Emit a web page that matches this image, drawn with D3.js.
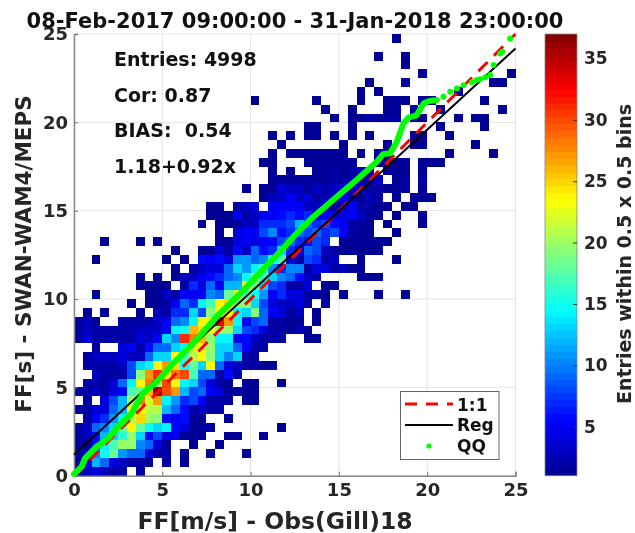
<!DOCTYPE html>
<html>
<head>
<meta charset="utf-8">
<script src="https://cdn.jsdelivr.net/npm/d3@7"></script>
<style>
  html, body { margin: 0; padding: 0; background: #fff; }
  svg { display: block; filter: blur(0.35px); }
  text { font-family: "DejaVu Sans", sans-serif; font-weight: bold; }
</style>
</head>
<body>
<svg id="chart" width="635" height="533"></svg>
<script>
var titleText = "08-Feb-2017 09:00:00 - 31-Jan-2018 23:00:00";
var xLabel = "FF[m/s] - Obs(Gill)18";
var yLabel = "FF[s] - SWAN-WAM4/MEPS";
var cbLabel = "Entries within 0.5 x 0.5 bins";
var statLines = ["Entries: 4998", "Cor: 0.87", "BIAS:  0.54", "1.18+0.92x"];
var axisTicks = [0, 5, 10, 15, 20, 25];
var cbTicks = [5, 10, 15, 20, 25, 30, 35];
var legendNames = ["1:1", "Reg", "QQ"];
var regLine = {a: 1.18, b: 0.92};

// counts per 0.5 x 0.5 bin, first row is the lowest y bin
var binCounts = [
  [2,3,4,3,2,2,0,2],
  [2,5,12,9,4,3,2,2,1,0,2,0,1],
  [2,3,10,15,18,11,9,9,4,2,2,0,1,0,0,1,0,0,0,1],
  [2,2,6,14,17,20,20,10,9,4,2,0,0,1,0,0,1],
  [2,3,6,12,13,16,20,13,5,8,4,5,1,1,1,0,0,1,1,0,0,1],
  [2,3,9,10,13,18,24,18,15,13,14,6,4,1,1,2,0,0,0,0,0,0,0,1],
  [0,2,5,7,11,14,21,25,20,19,6,5,6,1,1,0,0,1],
  [2,2,4,4,9,12,24,24,21,21,12,9,6,2,3,2,2],
  [0,2,0,4,8,12,20,28,22,27,14,11,7,8,5,2,2,2,0,1,1],
  [2,2,3,2,4,5,17,18,26,36,30,27,12,8,9,5,4,1,2,1,1],
  [0,2,2,2,4,9,14,23,28,20,30,24,14,13,8,4,2,1,0,1,1,0,0,1],
  [0,0,3,2,2,2,8,19,27,31,24,28,30,17,9,9,2,6,2],
  [0,2,2,2,2,3,8,13,14,24,27,25,15,18,13,24,9,4,3,2,2,1,1],
  [0,2,3,3,3,4,3,3,9,13,13,23,17,21,24,19,13,10,13,2,2],
  [0,0,2,0,0,4,5,2,6,9,9,13,14,22,24,20,13,13,9,5,2,2],
  [2,4,2,2,2,2,2,4,3,5,13,10,31,28,26,19,14,14,5,6,3,2,2,2,0,0,1,1],
  [2,3,2,2,2,2,2,3,3,3,5,14,15,26,25,23,20,20,13,8,7,4,2,2,1,3,1],
  [2,3,1,0,0,2,2,2,2,3,5,9,10,14,23,23,33,27,15,5,8,9,2,2,1,1,0,1],
  [0,1,0,1,0,0,0,1,0,3,2,7,7,13,8,19,23,24,14,13,19,9,5,4,2,3,0,1],
  [0,0,0,0,0,0,1,0,1,1,2,5,9,7,14,17,24,25,20,19,13,8,4,3,3,4,2,0,2],
  [0,0,1,0,0,0,0,0,1,1,3,2,5,5,5,10,9,18,22,17,15,11,5,7,4,4,2,2,1,0,1,0,0,0,1,0,0,1],
  [0,0,0,0,0,0,0,1,1,1,1,0,2,7,4,9,5,12,12,22,18,13,8,7,2,2,4,0,1,1],
  [0,0,0,0,0,0,0,1,0,1,0,1,3,3,5,6,7,9,10,15,19,16,13,10,9,6,3,2,0,0,0,0,1,1,1],
  [0,0,0,0,0,0,0,0,0,0,0,1,0,2,3,4,4,9,13,11,14,17,10,7,10,10,2,4,4,2,3,1,1],
  [0,0,1,0,0,0,0,0,0,0,1,0,1,0,6,5,6,4,11,11,9,10,15,17,4,2,8,7,2,3,0,0,1,0,0,0,1],
  [0,0,0,0,0,0,0,0,0,0,0,1,0,0,1,1,4,2,6,3,9,6,7,13,7,4,9,8,3,2,1,1,1,1,1],
  [0,0,0,1,0,0,0,1,0,1,0,0,0,0,0,0,1,1,4,5,4,5,5,8,9,7,6,8,7,0,1,1,1,1,1,1],
  [0,0,0,0,0,0,0,0,0,0,0,0,0,0,0,0,1,0,4,5,5,8,10,6,7,9,8,9,7,8,5,2,1,1,0,0,1],
  [0,0,0,0,0,0,0,0,0,0,0,0,0,0,1,0,1,1,1,3,3,7,7,7,8,12,9,7,8,6,5,2,2,1,0,1,0,0,0,1],
  [0,0,0,0,0,0,0,0,0,0,0,0,0,0,0,1,1,1,5,2,3,5,5,6,7,6,7,4,5,4,4,5,3,1,1,0,1,0,0,1],
  [0,0,0,0,0,0,0,0,0,0,0,0,0,0,0,1,1,0,2,3,4,0,5,5,5,5,3,3,3,2,3,5,2,2,1,1,0,1,1],
  [0,0,0,0,0,0,0,0,0,0,0,0,0,0,0,0,0,0,0,0,0,1,3,3,5,3,4,2,3,3,5,2,1,3,2,0,1,0,1,1,1],
  [0,0,0,0,0,0,0,0,0,0,0,0,0,0,0,0,0,0,0,1,0,1,1,4,3,3,1,3,2,3,4,3,3,2,2,1,1,2,0,1],
  [0,0,0,0,0,0,0,0,0,0,0,0,0,0,0,0,0,0,0,0,0,0,1,1,1,1,2,1,1,2,2,2,2,3,4,0,1,2,0,2],
  [0,0,0,0,0,0,0,0,0,0,0,0,0,0,0,0,0,0,0,0,0,0,1,0,1,0,0,1,1,2,1,2,3,2,0,1,1,1,0,1],
  [0,0,0,0,0,0,0,0,0,0,0,0,0,0,0,0,0,0,0,0,0,1,1,0,0,0,1,1,1,1,1,1,0,0,1,1,1,1,0,1,1,1],
  [0,0,0,0,0,0,0,0,0,0,0,0,0,0,0,0,0,0,0,0,0,0,1,0,1,1,1,1,1,1,1,0,1,0,1,1,0,0,0,0,0,0,1,0,0,0,0,1],
  [0,0,0,0,0,0,0,0,0,0,0,0,0,0,0,0,0,0,0,0,0,0,0,1,0,0,0,0,0,0,1,0,0,0,0,1,0,0,1,1,0,0,0,0,0,1],
  [0,0,0,0,0,0,0,0,0,0,0,0,0,0,0,0,0,0,0,0,0,0,1,0,1,0,1,1,0,1,0,1,0,1,0,0,0,0,1,1,0,0,1],
  [0,0,0,0,0,0,0,0,0,0,0,0,0,0,0,0,0,0,0,0,0,0,0,0,0,0,1,1,0,0,0,1,0,0,0,0,0,0,0,0,0,1,0,0,0,0,1],
  [0,0,0,0,0,0,0,0,0,0,0,0,0,0,0,0,0,0,0,0,0,0,0,0,0,0,0,0,0,1,0,1,1,2,1,2,2,0,1,1,0,0,0,1,0,1,1],
  [0,0,0,0,0,0,0,0,0,0,0,0,0,0,0,0,0,0,0,0,0,0,0,0,0,0,0,0,1,0,0,1,0,0,0,1,1,0,1,0,0,1,0,0,0,0,0,0,1],
  [0,0,0,0,0,0,0,0,0,0,0,0,0,0,0,0,0,0,0,0,1,0,0,0,0,0,0,1,0,0,0,0,1,0,0,1,1,1,0,1,1,0,0,0,0,0,1],
  [0,0,0,0,0,0,0,0,0,0,0,0,0,0,0,0,0,0,0,0,0,0,0,0,0,0,0,0,0,0,0,0,1,0,1,0,0,0,0,0,0,0,0,1],
  [0,0,0,0,0,0,0,0,0,0,0,0,0,0,0,0,0,0,0,0,0,0,0,0,0,0,0,0,0,0,0,0,0,1,0,0,0,1,0,0,0,0,0,0,0,0,0,1,1],
  [0,0,0,0,0,0,0,0,0,0,0,0,0,0,0,0,0,0,0,0,0,0,0,0,0,0,0,0,0,0,0,0,0,0,0,0,0,0,0,1,0,0,0,0,0,0,0,0,0,1],
  [0,0,0,0,0,0,0,0,0,0,0,0,0,0,0,0,0,0,0,0,0,0,0,0,0,0,0,0,0,0,0,0,0,0,0,0,0,1],
  [0,0,0,0,0,0,0,0,0,0,0,0,0,0,0,0,0,0,0,0,0,0,0,0,0,0,0,0,0,0,0,0,0,0,1,0,0,1],
  [],
  [0,0,0,0,0,0,0,0,0,0,0,0,0,0,0,0,0,0,0,0,0,0,0,0,0,0,0,0,0,0,0,0,0,0,0,0,1]
];

// QQ points: dense part runs together into a thick band, tail dots stand apart
var qqObs = [0,0.43,0.62,1.28,1.94,2.5,3.26,3.9,4.68,5.62,6.75,8.07,9.4,10.5,11.67,12.61,13.56,14.88,16,17.15,17.5,17.9,18.28,18.66,18.94,19.4,19.8,20.07,20.55];
var qqMod = [0.1,0.5,0.98,1.64,2.11,2.77,3.53,4.66,5.32,6.36,7.49,9,10.3,11.45,12.68,13.72,14.66,15.79,16.74,17.77,18.2,18.25,18.9,19.95,20.27,20.4,21.07,21.2,21.26];
var qqTailObs = [20.92,21.3,21.68,22.06,22.53,22.8,23,23.3,23.57,23.76,24.13,24.25,24.7];
var qqTailMod = [21.45,21.73,21.92,22.1,22.27,22.4,22.44,22.55,22.68,23.24,23.9,24,24.75];

var svg = d3.select("#chart");
var dark = "#262626";

var x = d3.scaleLinear().domain([0, 25]).range([74, 515.5]),
    y = d3.scaleLinear().domain([0, 25]).range([475.7, 34]),
    cbY = d3.scaleLinear().domain([1, 37]).range([475.7, 34]);

// jet, 64 steps like the matlab colormap
var jet = d3.scaleLinear()
  .domain([0, 0.125, 0.375, 0.625, 0.875, 1])
  .range(["#00008f", "#0000ff", "#00ffff", "#ffff00", "#ff0000", "#800000"]);
function levelColor(v){
  var lev = Math.min(63, Math.floor((v - 1) / 36 * 64));
  return jet((lev + 0.5) / 64);
}

//Grid under the cells
svg.append("g").selectAll("line").data(axisTicks).enter().append("line")
  .attr("x1", function(d){ return x(d); }).attr("x2", function(d){ return x(d); })
  .attr("y1", y(0)).attr("y2", y(25))
  .style("stroke", "#e4e4e4").style("stroke-width", 1);
svg.append("g").selectAll("line").data(axisTicks).enter().append("line")
  .attr("x1", x(0)).attr("x2", x(25))
  .attr("y1", function(d){ return y(d); }).attr("y2", function(d){ return y(d); })
  .style("stroke", "#e4e4e4").style("stroke-width", 1);

//Heat map cells
var cells = [];
binCounts.forEach(function(row, j){
  row.forEach(function(v, i){
    if(v > 0) cells.push({i: i, j: j, v: v});
  });
});
svg.append("g").selectAll("rect").data(cells).enter().append("rect")
  .attr("x", function(d){ return x(d.i * 0.5); })
  .attr("y", function(d){ return y((d.j + 1) * 0.5); })
  .attr("width", x(0.5) - x(0))
  .attr("height", y(0) - y(0.5))
  .attr("shape-rendering", "crispEdges")
  .style("fill", function(d){ return levelColor(d.v); });

//Axes, drawn by hand-styled d3 axes so ticks point inwards
var xAxis = svg.append("g").attr("transform", "translate(0," + y(0) + ")")
  .call(d3.axisBottom(x).tickValues(axisTicks).tickSize(-4).tickPadding(8));
var yAxis = svg.append("g").attr("transform", "translate(" + x(0) + ",0)")
  .call(d3.axisLeft(y).tickValues(axisTicks).tickSize(-4).tickPadding(6));
[xAxis, yAxis].forEach(function(ax){
  ax.selectAll("text").style("font-size", "18px").style("fill", dark)
    .style("font-family", "DejaVu Sans").style("font-weight", "bold");
  ax.selectAll("line").style("stroke", "#777");
  ax.select(".domain").style("stroke", "#888").style("stroke-width", 1.5);
});

//Lines
var line = d3.line().x(function(d){ return x(d[0]); }).y(function(d){ return y(d[1]); });
svg.append("path").datum([[0, 0], [25, 25]]).attr("d", line)
  .style("fill", "none").style("stroke", "#ff0000").style("stroke-width", 3)
  .style("stroke-dasharray", "13,9");
svg.append("path").datum([[0, regLine.a], [25, regLine.a + regLine.b * 25]]).attr("d", line)
  .style("fill", "none").style("stroke", "#000").style("stroke-width", 2);
svg.append("path").datum(qqObs.map(function(d, i){ return [d, qqMod[i]]; })).attr("d", line)
  .style("fill", "none").style("stroke", "#00ff00").style("stroke-width", 6)
  .style("stroke-linejoin", "round").style("stroke-linecap", "round");
svg.append("g").selectAll("circle").data(qqTailObs).enter().append("circle")
  .attr("cx", function(d){ return x(d); })
  .attr("cy", function(d, i){ return y(qqTailMod[i]); })
  .attr("r", 3)
  .style("fill", "#00ff00");

//Title and axis labels
svg.append("text").attr("x", 295).attr("y", 27.5).attr("text-anchor", "middle")
  .style("font-size", "21px").style("fill", "#111").text(titleText);
svg.append("text").attr("x", 275).attr("y", 528.5).attr("text-anchor", "middle")
  .style("font-size", "23.5px").style("fill", dark).text(xLabel);
svg.append("text").attr("transform", "translate(31,254) rotate(-90)").attr("text-anchor", "middle")
  .style("font-size", "21.5px").style("fill", dark).text(yLabel);

//Stats
var statY = [66, 102, 137, 173];
svg.append("g").selectAll("text").data(statLines).enter().append("text")
  .attr("x", 114).attr("y", function(d, i){ return statY[i]; })
  .attr("xml:space", "preserve")
  .style("white-space", "pre")
  .style("font-size", "19px").style("fill", "#111").text(function(d){ return d; });

//Legend
var lg = svg.append("g");
lg.append("rect").attr("x", 400.5).attr("y", 391.5).attr("width", 98.5).attr("height", 68)
  .style("fill", "#fff").style("stroke", "#666").style("stroke-width", 1);
lg.append("line").attr("x1", 405).attr("x2", 453).attr("y1", 404).attr("y2", 404)
  .style("stroke", "#ff0000").style("stroke-width", 3).style("stroke-dasharray", "12,9");
lg.append("line").attr("x1", 405).attr("x2", 453).attr("y1", 425).attr("y2", 425)
  .style("stroke", "#000").style("stroke-width", 2);
lg.append("circle").attr("cx", 429).attr("cy", 446).attr("r", 2.6).style("fill", "#00ff00");
var lgY = [410.5, 431, 452];
lg.selectAll("text").data(legendNames).enter().append("text")
  .attr("x", 457).attr("y", function(d, i){ return lgY[i]; })
  .style("font-size", "17px").style("fill", "#111").text(function(d){ return d; });

//Colorbar, 64 steps
var cbLevels = d3.range(64);
svg.append("g").selectAll("rect").data(cbLevels).enter().append("rect")
  .attr("x", 545).attr("width", 32)
  .attr("y", function(d){ return cbY(1 + (d + 1) * 36 / 64); })
  .attr("height", (cbY(1) - cbY(37)) / 64 + 0.5)
  .attr("shape-rendering", "crispEdges")
  .style("fill", function(d){ return jet((d + 0.5) / 64); });
svg.append("rect").attr("x", 545).attr("y", cbY(37)).attr("width", 32).attr("height", cbY(1) - cbY(37))
  .style("fill", "none").style("stroke", "#888").style("stroke-width", 0.8);
var cbAxis = svg.append("g").attr("transform", "translate(577,0)")
  .call(d3.axisRight(cbY).tickValues(cbTicks).tickSize(-4).tickPadding(7));
cbAxis.select(".domain").remove();
cbAxis.selectAll("line").style("stroke", "#333");
cbAxis.selectAll("text").style("font-size", "17px").style("fill", dark)
  .style("font-family", "DejaVu Sans").style("font-weight", "bold");
svg.append("text").attr("transform", "translate(631,254) rotate(-90)").attr("text-anchor", "middle")
  .style("font-size", "19px").style("fill", dark).text(cbLabel);
</script>
</body>
</html>
